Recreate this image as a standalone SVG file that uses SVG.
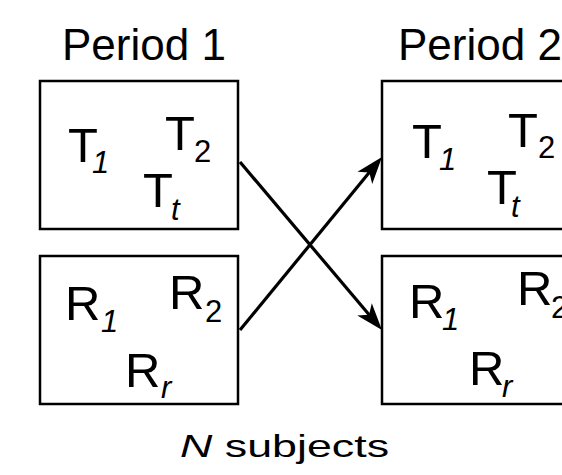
<svg xmlns="http://www.w3.org/2000/svg" width="562" height="475" viewBox="0 0 562 475">
<style>
.box{fill:#fff;stroke:#000;stroke-width:2.5}
.t{font-family:"Liberation Sans",Arial,sans-serif;fill:#000}
.m{font-size:49px}
.s{font-size:31px}
.i{font-style:italic}
.h{font-size:44px}
.conn{fill:none;stroke:#000;stroke-width:3.2}
</style>
<defs>
<marker id="arr" markerUnits="userSpaceOnUse" orient="auto" refX="0" refY="0" markerWidth="30" markerHeight="20" overflow="visible">
<path d="M15,0 L-12,-9.5 L-5,0 L-12,9.5 Z" fill="#000"/>
</marker>
</defs>
<rect width="562" height="475" fill="#fff"/>
<text class="t h" x="62" y="60">Period 1</text>
<text class="t h" x="398" y="60">Period 2</text>
<g id="p1-test">
<rect class="box" x="40" y="81" width="198" height="148"/>
<text class="t m" x="68" y="162">T</text><text class="t s i" x="92" y="173">1</text>
<text class="t m" x="165" y="150">T</text><text class="t s" x="194" y="162">2</text>
<text class="t m" x="143" y="207">T</text><text class="t s i" x="171" y="220">t</text>
</g>
<g id="p1-ref">
<rect class="box" x="40" y="256" width="198" height="148"/>
<text class="t m" x="65" y="320">R</text><text class="t s i" x="101" y="332">1</text>
<text class="t m" x="169" y="309">R</text><text class="t s" x="205" y="322">2</text>
<text class="t m" x="125" y="387">R</text><text class="t s i" x="161" y="398">r</text>
</g>
<g id="p2-test">
<rect class="box" x="382" y="81" width="200" height="148"/>
<text class="t m" x="412" y="158">T</text><text class="t s i" x="439" y="170">1</text>
<text class="t m" x="508" y="147">T</text><text class="t s" x="538" y="158">2</text>
<text class="t m" x="487" y="204">T</text><text class="t s i" x="511" y="217">t</text>
</g>
<g id="p2-ref">
<rect class="box" x="382" y="256" width="200" height="148"/>
<text class="t m" x="409" y="318">R</text><text class="t s i" x="442" y="330">1</text>
<text class="t m" x="517" y="305">R</text><text class="t s" x="551" y="318">2</text>
<text class="t m" x="469" y="385">R</text><text class="t s i" x="502" y="397">r</text>
</g>
<g id="connectors">
<line class="conn" x1="240" y1="162" x2="372.3" y2="318.5" marker-end="url(#arr)"/>
<line class="conn" x1="240" y1="330" x2="372.5" y2="168.6" marker-end="url(#arr)"/>
</g>
<text class="t" transform="translate(180,457) scale(1.4,1)" font-size="32"><tspan class="i">N</tspan> subjects</text>
</svg>
